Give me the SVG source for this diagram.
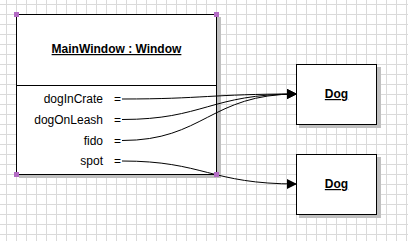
<svg xmlns="http://www.w3.org/2000/svg" width="408" height="241" viewBox="0 0 408 241">
<style>
.box{fill:#fff;stroke:#000;stroke-width:1}
.shadow{fill:#c0c0c0}
.t{font-family:"Liberation Sans",Arial,sans-serif;font-size:12px;fill:#000}
.b{font-weight:bold;text-decoration:underline;text-anchor:middle}
.r{text-anchor:end}
.c{fill:none;stroke:#000;stroke-width:1}
.h{fill:#b36bc4}
</style>
<defs>
<pattern id="grid" x="6" y="4" width="10" height="10" patternUnits="userSpaceOnUse">
<rect x="0" y="0" width="1" height="10" fill="#dadada"/>
<rect x="0" y="0" width="10" height="1" fill="#dadada"/>
</pattern>
<marker id="arr" markerUnits="userSpaceOnUse" markerWidth="10" markerHeight="10" refX="10" refY="5" orient="auto">
<path d="M0,0 L10,5 L0,10 z" fill="#000"/>
</marker>
</defs>
<rect x="0" y="0" width="408" height="241" fill="#fff"/>
<rect x="0" y="0" width="408" height="241" fill="url(#grid)"/>
<g id="mainwindow">
<rect class="shadow" x="19" y="17" width="202" height="161"/>
<rect class="box" x="16.5" y="14.5" width="200" height="160"/>
<line x1="16.5" y1="85.5" x2="216.5" y2="85.5" stroke="#000" stroke-width="1"/>
<text class="t b" x="116.5" y="53">MainWindow : Window</text>
<text class="t r" x="103" y="102.5">dogInCrate</text>
<text class="t" x="114" y="102.5">=</text>
<text class="t r" x="103" y="123.5">dogOnLeash</text>
<text class="t" x="114" y="123.5">=</text>
<text class="t r" x="103" y="144.5">fido</text>
<text class="t" x="114" y="144.5">=</text>
<text class="t r" x="103" y="165">spot</text>
<text class="t" x="114" y="165">=</text>
</g>
<g id="dog1">
<rect class="shadow" x="299" y="67" width="82" height="61"/>
<rect class="box" x="296.5" y="64.5" width="80" height="60"/>
<text class="t b" x="336.5" y="98">Dog</text>
</g>
<g id="dog2">
<rect class="shadow" x="299" y="157" width="82" height="61"/>
<rect class="box" x="296.5" y="154.5" width="80" height="60"/>
<text class="t b" x="336.5" y="188">Dog</text>
</g>
<g id="connectors">
<path class="c" d="M122,99 C204,99 210,94 297,94" marker-end="url(#arr)"/>
<path class="c" d="M122,119.5 C204,119.5 210,94 297,94" marker-end="url(#arr)"/>
<path class="c" d="M122,140.5 C204,140.5 210,94 297,94" marker-end="url(#arr)"/>
<path class="c" d="M122,161 C204,161 210,184 297,184" marker-end="url(#arr)"/>
</g>
<g id="selection-handles">
<rect class="h" x="14" y="12" width="5" height="5"/>
<rect class="h" x="214" y="12" width="5" height="5"/>
<rect class="h" x="14" y="172" width="5" height="5"/>
<rect class="h" x="214" y="172" width="5" height="5"/>
</g>
</svg>
